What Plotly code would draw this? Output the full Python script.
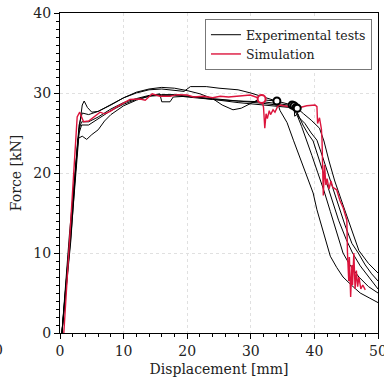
import plotly.graph_objects as go

# ---------------- data ----------------
exp1_x = [0.3, 1.5, 3.0, 3.5, 3.8, 4.3, 5.0, 6.0, 8.0, 10.0, 12.0, 14.0, 16.0, 18.0, 20.0, 22.0, 24.0, 25.5, 27.2, 28.5, 30.0, 31.0, 32.5, 34.1,
          34.6, 35.7, 36.7, 37.7, 38.8, 39.8, 40.4, 41.4, 42.5, 43.5, 44.5, 45.8, 47.2, 48.6, 50.0]
exp1_y = [0.0, 12.5, 25.5, 28.5, 29.0, 28.2, 27.6, 27.7, 28.5, 29.4, 30.1, 30.5, 30.7, 30.6, 30.3, 29.9, 29.3, 28.5, 27.9, 28.1, 28.7, 29.1, 29.1, 29.0,
          27.8, 26.3, 24.1, 22.0, 19.7, 17.5, 15.4, 12.5, 9.6, 8.2, 7.0, 6.0, 5.0, 4.4, 3.8]

exp2_x = [0.3, 1.6, 3.0, 3.5, 4.5, 6.0, 8.0, 10.0, 12.0, 14.0, 16.0, 18.0, 19.5, 20.5, 23.0, 25.0, 28.0, 30.0, 32.0, 34.0, 36.5,
          37.3, 38.0, 38.7, 39.6, 40.5, 41.5, 42.5, 43.5, 44.5, 45.5, 47.0, 48.5, 50.0]
exp2_y = [0.0, 12.5, 26.0, 27.5, 27.3, 27.7, 28.6, 29.4, 30.0, 30.4, 30.5, 30.3, 30.2, 30.8, 30.8, 30.6, 30.4, 30.0, 29.5, 29.0, 28.5,
          27.2, 25.8, 24.1, 22.2, 20.1, 17.8, 15.2, 12.5, 10.0, 8.6, 7.0, 5.8, 5.0]

exp3_x = [0.3, 1.6, 3.0, 3.4, 4.5, 6.0, 8.0, 10.0, 12.0, 14.0, 16.0, 18.0, 20.0, 24.0, 28.0, 32.0, 36.8,
          36.9, 37.4, 38.2, 39.0, 39.8, 40.7, 41.6, 42.6, 43.8, 45.0, 46.0, 47.2, 48.5, 50.0]
exp3_y = [0.0, 12.0, 25.5, 26.4, 26.4, 27.0, 28.0, 28.8, 29.3, 29.7, 29.8, 29.8, 29.6, 29.3, 29.0, 28.9, 28.4,
          27.1, 27.4, 26.0, 24.9, 24.0, 21.8, 19.4, 16.9, 14.1, 11.7, 10.0, 8.4, 7.0, 5.5]

exp4_x = [0.3, 1.7, 3.0, 3.4, 4.5, 6.0, 8.0, 10.0, 12.0, 14.0, 15.7, 16.0, 17.3, 17.8, 20.0, 24.0, 28.0, 32.0, 37.1,
          37.5, 38.5, 39.5, 40.4, 41.3, 42.3, 43.5, 44.8, 45.9, 46.9, 48.0, 49.0, 50.0]
exp4_y = [0.0, 12.0, 25.0, 26.0, 26.0, 26.8, 27.8, 28.6, 29.2, 29.6, 29.9, 28.9, 28.9, 29.5, 29.6, 29.2, 29.0, 28.7, 28.2,
          27.0, 26.2, 25.0, 24.1, 22.0, 19.5, 16.5, 13.5, 11.2, 10.0, 8.5, 7.4, 6.5]

exp5_x = [0.3, 1.7, 2.8, 3.5, 4.2, 5.0, 6.0, 7.0, 8.0, 10.0, 12.0, 14.0, 16.0, 18.0, 20.0, 24.0, 28.0, 32.0, 37.3,
          38.3, 39.5, 40.8, 41.5, 42.3, 43.2, 44.5, 46.0, 47.0, 48.5, 50.0]
exp5_y = [0.0, 11.5, 24.3, 24.6, 24.2, 24.8, 25.4, 26.5, 27.3, 28.4, 29.1, 29.6, 29.7, 29.7, 29.5, 29.2, 28.8, 28.5, 28.1,
          27.4, 26.6, 25.6, 24.0, 21.5, 19.0, 16.0, 12.5, 10.3, 8.7, 7.5]

sim_x = [0.6, 2.7, 3.1, 3.4, 3.7, 4.5, 5.2, 5.8, 6.3, 7.0, 7.9, 9.0, 10.0, 11.0, 12.6, 13.4, 14.5, 15.7, 17.3, 18.5, 20.0, 21.0,
         22.5, 24.0, 25.2, 26.5, 27.8, 29.9, 31.7, 32.0, 32.2, 32.4, 32.6, 32.9, 33.1, 33.5, 33.8, 34.2, 34.6, 35.7, 37.3, 38.8,
         40.1, 40.4, 40.5, 40.8, 41.1, 41.2, 41.3, 41.4, 41.6, 41.8, 42.0, 42.3, 42.6, 42.9, 43.5, 44.0, 44.5, 45.1, 45.2, 45.4,
         45.5, 45.7, 45.9, 46.0, 46.2, 46.4, 46.6, 46.8, 47.0, 47.3, 47.6, 48.0]
sim_y = [0.0, 27.0, 27.6, 27.0, 26.4, 26.5, 26.9, 27.2, 27.6, 27.4, 27.7, 28.3, 28.8, 29.2, 29.25, 29.1, 29.9, 29.6, 29.6, 29.8, 29.75, 29.5,
         29.6, 29.4, 29.6, 29.5, 29.6, 29.75, 29.25, 28.2, 25.6, 27.4, 26.8, 27.8, 27.3, 27.9, 27.6, 28.3, 28.5, 28.3, 28.1, 28.4,
         28.5, 28.3, 26.2, 26.9, 25.5, 24.1, 20.4, 17.2, 21.0, 18.5, 19.3, 18.0, 19.0, 18.2, 17.9, 16.6, 15.7, 14.1, 10.0, 6.5,
         9.5, 4.5, 8.5, 6.0, 10.0, 5.5, 7.8, 5.8, 7.0, 5.5, 6.0, 5.4]

fail_exp_x = [34.1, 36.5, 36.8, 37.1, 37.3]
fail_exp_y = [29.0, 28.5, 28.4, 28.2, 28.1]
fail_sim_x = [31.7]
fail_sim_y = [29.25]

x_ticks = [0, 10, 20, 30, 40, 50]
y_ticks = [0, 10, 20, 30, 40]

RED = "#dc143c"
FONT = "DejaVu Serif"

fig = go.Figure()
exps = [(exp1_x, exp1_y), (exp2_x, exp2_y), (exp3_x, exp3_y), (exp4_x, exp4_y), (exp5_x, exp5_y)]
for i, (xs, ys) in enumerate(exps):
    fig.add_trace(go.Scatter(x=xs, y=ys, mode="lines", line=dict(color="black", width=1),
                             name="Experimental tests", showlegend=(i == 0), legendrank=1))
fig.add_trace(go.Scatter(x=sim_x, y=sim_y, mode="lines", line=dict(color=RED, width=1.4),
                         name="Simulation", legendrank=2))
fig.add_trace(go.Scatter(x=fail_exp_x, y=fail_exp_y, mode="markers", showlegend=False,
                         marker=dict(symbol="circle", size=7, color="white", line=dict(color="black", width=2))))
fig.add_trace(go.Scatter(x=fail_sim_x, y=fail_sim_y, mode="markers", showlegend=False,
                         marker=dict(symbol="circle", size=8, color="white", line=dict(color=RED, width=2))))

fig.update_layout(
    width=384, height=387,
    margin=dict(l=60, r=6, t=13, b=54),
    paper_bgcolor="white", plot_bgcolor="white",
    font=dict(family=FONT, size=13, color="#222"),
    legend=dict(x=0.981, y=0.981, xanchor="right", yanchor="top",
                bordercolor="#777", borderwidth=1, bgcolor="white",
                font=dict(family=FONT, size=12.5), tracegroupgap=0,
                itemwidth=30),
    annotations=[dict(text="0", xref="paper", yref="paper", x=-0.172, y=-0.053,
                      xanchor="right", yanchor="middle", showarrow=False,
                      font=dict(family=FONT, size=14, color="#222"))],
)
fig.update_xaxes(
    range=[0, 50], tickvals=x_ticks, ticks="outside", ticklen=5, tickwidth=1, tickcolor="black",
    minor=dict(dtick=2, ticks="outside", ticklen=3, tickcolor="black", showgrid=False),
    showline=True, linecolor="black", linewidth=1.3, mirror=True,
    showgrid=True, gridcolor="#e0e0e0", griddash="dot", gridwidth=1,
    zeroline=False, tickfont=dict(family=FONT, size=14), ticklabeloverflow="allow",
    automargin=False,
    title=dict(text="Displacement [mm]", font=dict(family=FONT, size=14), standoff=6),
)
fig.update_yaxes(
    range=[0, 40], tickvals=y_ticks, ticks="outside", ticklen=5, tickwidth=1, tickcolor="black",
    minor=dict(dtick=1, ticks="outside", ticklen=3, tickcolor="black", showgrid=False),
    showline=True, linecolor="black", linewidth=1.3, mirror=True,
    showgrid=True, gridcolor="#e0e0e0", griddash="dot", gridwidth=1,
    zeroline=False, tickfont=dict(family=FONT, size=14), ticklabeloverflow="allow",
    automargin=False,
    title=dict(text="Force [kN]", font=dict(family=FONT, size=14), standoff=8),
)

fig.write_html("out.html")
